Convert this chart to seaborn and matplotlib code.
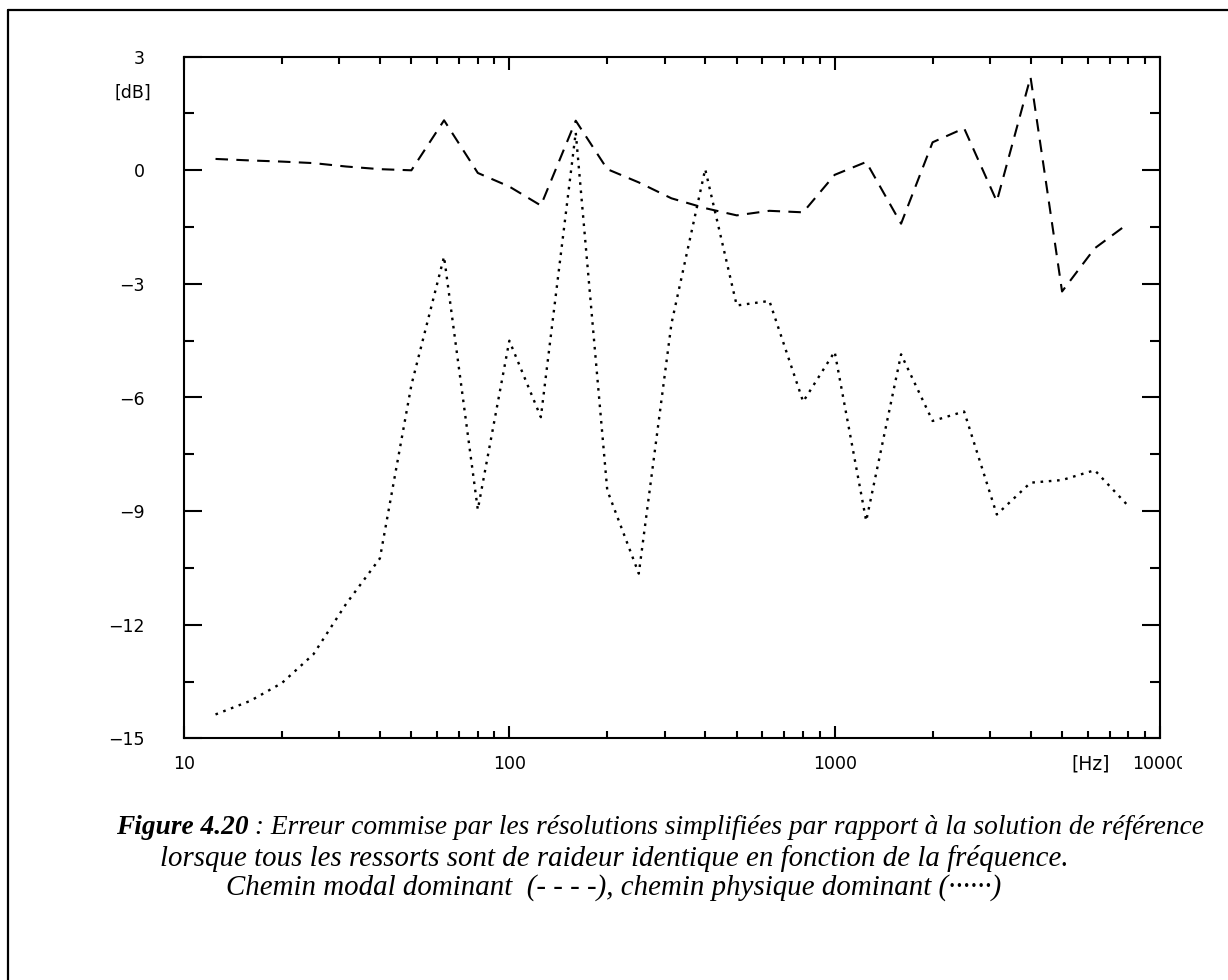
import matplotlib
matplotlib.use("Agg")
import matplotlib.pyplot as plt
import numpy as np
import pandas as pd
import seaborn as sns
from matplotlib.ticker import FixedLocator, NullFormatter, FixedFormatter
from matplotlib.transforms import Bbox
from matplotlib.lines import Line2D

# Third-octave band centre frequencies [Hz]
freq_hz = [12.5, 16, 20, 25, 31.5, 40, 50, 63, 80, 100, 125, 160, 200, 250,
           315, 400, 500, 630, 800, 1000, 1250, 1600, 2000, 2500, 3150, 4000,
           5000, 6300, 8000]

# Error [dB] - dominant modal path (dashed)
modal_db = [0.30, 0.26, 0.23, 0.19, 0.10, 0.03, 0.0, 1.32, -0.07, -0.43,
            -0.93, 1.31, 0.03, -0.32, -0.74, -1.00, -1.19, -1.07, -1.11,
            -0.12, 0.22, -1.41, 0.74, 1.11, -0.82, 2.46, -3.20, -2.06, -1.40]

# Error [dB] - dominant physical path (dotted)
physique_db = [-14.37, -14.01, -13.54, -12.78, -11.45, -10.25, -5.67, -2.28,
               -8.96, -4.50, -6.52, 1.00, -8.45, -10.65, -4.05, 0.03, -3.57,
               -3.45, -6.11, -4.79, -9.26, -4.86, -6.62, -6.37, -9.09, -8.25,
               -8.18, -7.92, -8.87]

y_ticks = [-15, -12, -9, -6, -3, 0, 3]
x_ticks = [10, 100, 1000, 10000]
x_tick_labels = ["10", "100", "1000", ""]

W, H = 1228, 980
sns.set_style("white")
plt.rcParams["font.family"] = ["DejaVu Sans"]
plt.rcParams["text.color"] = "black"
plt.rcParams["xtick.color"] = "black"
plt.rcParams["ytick.color"] = "black"

TICK_FS = 12.5

fig = plt.figure(figsize=(W / 100, H / 100), dpi=100)
ax = fig.add_axes([184 / W, 1 - 738.3 / H, (1160 - 184) / W, (738.3 - 56.7) / H])

df = pd.DataFrame({"f": freq_hz, "modal": modal_db, "physique": physique_db})
sns.lineplot(data=df, x="f", y="modal", ax=ax, color="black", lw=1.5,
             dashes=False, linestyle=(0, (6, 4)))
sns.lineplot(data=df, x="f", y="physique", ax=ax, color="black", lw=1.7,
             dashes=False, linestyle=(0, (1.1, 2.4)))

ax.set_xscale("log")
ax.set_xlim(10, 10000)
ax.set_ylim(-15, 3)
ax.set_xlabel("")
ax.set_ylabel("")

for s in ax.spines.values():
    s.set_visible(True)
    s.set_linewidth(1.5)
    s.set_color("black")

ax.xaxis.set_major_locator(FixedLocator(x_ticks))
ax.xaxis.set_major_formatter(FixedFormatter(x_tick_labels))
minor_x = [m * d for d in (10, 100, 1000) for m in range(2, 10)]
ax.xaxis.set_minor_locator(FixedLocator(minor_x))
ax.xaxis.set_minor_formatter(NullFormatter())
ax.yaxis.set_major_locator(FixedLocator(y_ticks))
ax.yaxis.set_minor_locator(FixedLocator(np.arange(-13.5, 3, 3)))

ax.tick_params(axis="x", which="major", direction="in", length=9, width=1.5,
               top=True, bottom=True, labelsize=TICK_FS, pad=12,
               colors="black")
ax.tick_params(axis="x", which="minor", direction="in", length=5, width=1.5,
               top=True, bottom=True)
ax.tick_params(axis="y", which="major", direction="in", length=13, width=1.5,
               left=True, right=True, labelsize=TICK_FS, pad=28,
               colors="black")
ax.tick_params(axis="y", which="minor", direction="in", length=7, width=1.5,
               left=True, right=True)

# unit labels
fig.text(133 / W, 1 - 93 / H, "[dB]", ha="center", va="center",
         fontsize=TICK_FS)
fig.text(1091 / W, 1 - 764 / H, "[Hz]", ha="center", va="center",
         fontsize=13.5)
t10k = fig.text(1160 / W, 1 - 764 / H, "10000", ha="center", va="center",
                fontsize=TICK_FS)
t10k.set_clip_box(Bbox.from_extents(0, 0, 1182, H))
t10k.set_clip_on(True)

# outer frame
fig.add_artist(Line2D([8 / W, 8 / W], [0, 1 - 10 / H], color="black", lw=1.6,
                      transform=fig.transFigure))
fig.add_artist(Line2D([8 / W, 1], [1 - 10 / H, 1 - 10 / H], color="black",
                      lw=1.6, transform=fig.transFigure))

# caption
cap1 = dict(family="Liberation Serif", style="italic", fontsize=19.7)
cap2 = dict(family="Liberation Serif", style="italic", fontsize=20.8)
renderer = fig.canvas.get_renderer()
head = fig.text(0, 1 - 827 / H, "Figure 4.20", va="center", ha="left",
                weight="bold", **cap1)
rest = fig.text(0, 1 - 827 / H,
                " : Erreur commise par les résolutions simplifiées par rapport à la solution de référence",
                va="center", ha="left", **cap1)
w1 = head.get_window_extent(renderer).width
w2 = rest.get_window_extent(renderer).width
x0 = 660 - (w1 + w2) / 2
head.set_x(x0 / W)
rest.set_x((x0 + w1) / W)
fig.text(614 / W, 1 - 858 / H,
         "lorsque tous les ressorts sont de raideur identique en fonction de la fréquence.",
         ha="center", va="center", **cap2)
fig.text(614 / W, 1 - 888 / H,
         "Chemin modal dominant  (- - - -), chemin physique dominant (······)",
         ha="center", va="center", **cap2)

fig.savefig("out.png", dpi=100, facecolor="white")
